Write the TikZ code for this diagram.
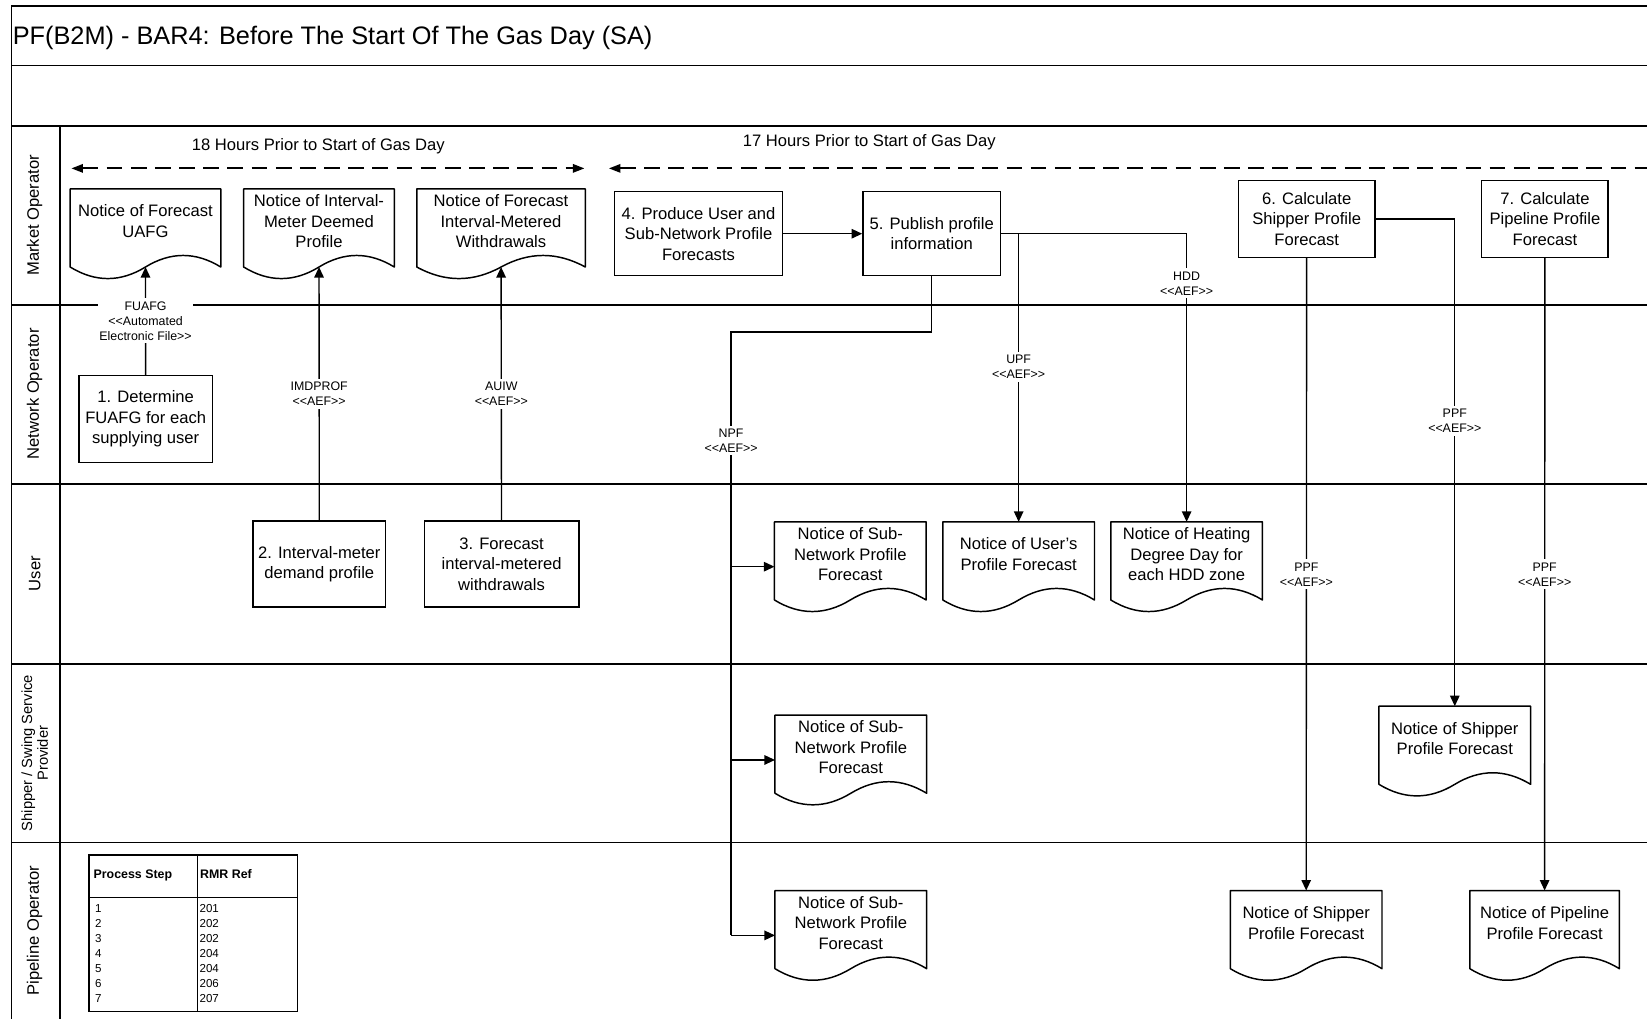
\documentclass[tikz,border=0pt]{standalone}
\usepackage{fontspec}
\setmainfont{Liberation Sans}
\usepackage{tikz}
\usetikzlibrary{arrows.meta,calc}
\newcommand{\boxfont}{\fontsize{15.8}{19.5}\selectfont}
\newcommand{\aeffont}{\fontsize{11.8}{14.3}\selectfont}
\newcommand{\titlefont}{\fontsize{24.1}{28}\selectfont}
\newcommand{\shipfont}{\fontsize{14}{15}\selectfont}
\newcommand{\tblfont}{\fontsize{11}{14.3}\selectfont}
\tikzset{
  proc/.style={draw, line width=1.4pt, align=center, font=\boxfont, inner sep=0pt},
  doc/.style={align=center, font=\boxfont, inner sep=0pt, minimum height=74pt, text depth=13pt},
  docline/.style={line width=1.4pt, line join=round},
  flow/.style={line width=1.3pt, -{Triangle[length=10pt,width=9pt]}},
  link/.style={line width=1.3pt},
  aef/.style={fill=white, font=\aeffont, align=center, inner xsep=1.5pt, inner ysep=3pt},
  lane/.style={rotate=90, font=\boxfont, align=center},
  sep/.style={line width=1.5pt},
  timeline/.style={line width=1.8pt, dash pattern=on 15pt off 8pt}
}

\begin{document}
\begin{tikzpicture}[x=1pt,y=-1pt]
            \useasboundingbox (0,0) rectangle (1568,970);

            % frame and swim lanes
            \draw[sep] (1568,5.7) -- (11,5.7) -- (11,970);
            \draw[sep] (11,62.5) -- (1568,62.5);
            \draw[sep] (11,120) -- (1568,120);
            \draw[sep] (57,120) -- (57,970);
            \draw[sep] (11,290.4) -- (1568,290.4);
            \draw[sep] (11,460.5) -- (1568,460.5);
            \draw[sep] (11,632) -- (1568,632);
            \draw[sep] (11,802.2) -- (1568,802.2);

            \node[anchor=base west, font=\titlefont, inner sep=0pt] (title) at (12,42) {PF(B2M) - BAR4: Before The Start Of The Gas Day (SA)};

            % lane names
            \node[lane] (lMO) at (33,205) {Market Operator};
            \node[lane] (lNO) at (33,375) {Network Operator};
            \node[lane] (lU) at (33,546) {User};
            \node[lane, font=\shipfont] (lSSP) at (33,717) {Shipper / Swing Service\\Provider};
            \node[lane] (lPO) at (33,886) {Pipeline Operator};

            % time lines
            \node[font=\boxfont] (t18) at (303,138.9) {18 Hours Prior to Start of Gas Day};
            \node[font=\boxfont] (t17) at (827.6,135.6) {17 Hours Prior to Start of Gas Day};
            \coordinate (t18l) at (68,160.3);
            \coordinate (t18r) at (556.4,160.3);
            \coordinate (t17l) at (579.7,160.3);
            \coordinate (t17r) at (1568,160.3);
            \draw[timeline, {Triangle[length=11pt,width=8pt]}-{Triangle[length=11pt,width=8pt]}] (t18l) -- (t18r);
            \draw[timeline, {Triangle[length=11pt,width=8pt]}-] (t17l) -- (t17r);

            % market operator lane
            \node[doc, minimum width=143pt] (dUAFG) at (138.5,217) {Notice of Forecast\\UAFG};
            \node[doc, minimum width=143pt] (dIMD) at (303.7,217) {Notice of Interval-\\Meter Deemed\\Profile};
            \node[doc, minimum width=160pt] (dAUIW) at (477,217) {Notice of Forecast\\Interval-Metered\\Withdrawals};
            \node[proc, minimum width=160pt, minimum height=80pt] (p4) at (665,222.5) {4. Produce User and\\Sub-Network Profile\\Forecasts};
            \node[proc, minimum width=131pt, minimum height=80pt] (p5) at (887,222.5) {5. Publish profile\\information};
            \node[proc, minimum width=130pt, minimum height=73pt] (p6) at (1244,208.5) {6. Calculate\\Shipper Profile\\Forecast};
            \node[proc, minimum width=120.5pt, minimum height=73pt] (p7) at (1470.8,208.5) {7. Calculate\\Pipeline Profile\\Forecast};

            % network operator lane
            \node[proc, minimum width=127pt, minimum height=83pt] (p1) at (138.7,399) {1. Determine\\FUAFG for each\\supplying user};

            % user lane
            \node[proc, minimum width=126pt, minimum height=82pt] (p2) at (304,537) {2. Interval-meter\\demand profile};
            \node[proc, minimum width=147pt, minimum height=82pt] (p3) at (477.5,537) {3. Forecast\\interval-metered\\withdrawals};
            \node[doc, minimum width=144pt] (dSubU) at (809.5,534) {Notice of Sub-\\Network Profile\\Forecast};
            \node[doc, minimum width=144pt] (dUser) at (969.8,534) {Notice of User's\\Profile Forecast};
            \node[doc, minimum width=144pt] (dHDD) at (1129.7,534) {Notice of Heating\\Degree Day for\\each HDD zone};

            % shipper / swing service provider lane
            \node[doc, minimum width=144pt] (dSubS) at (810,718) {Notice of Sub-\\Network Profile\\Forecast};
            \node[doc, minimum width=144pt] (dShipS) at (1385,709.5) {Notice of Shipper\\Profile Forecast};

            % pipeline operator lane
            \node[doc, minimum width=144pt] (dSubP) at (810,885) {Notice of Sub-\\Network Profile\\Forecast};
            \node[doc, minimum width=144pt] (dShipP) at (1243.5,885) {Notice of Shipper\\Profile Forecast};
            \node[doc, minimum width=142pt] (dPipeP) at (1470.5,885) {Notice of Pipeline\\Profile Forecast};

            % document outlines with the wavy bottom
            \foreach \d in {dUAFG,dIMD,dAUIW,dSubU,dUser,dHDD,dSubS,dShipS,dSubP,dShipP,dPipeP}
              \draw[docline] (\d.south east) -- (\d.north east) -- (\d.north west) -- (\d.south west)
                .. controls ($(\d.south west)!0.1667!(\d.south east)+(0pt,-14.67pt)$) and ($(\d.south west)!0.3333!(\d.south east)+(0pt,-14.67pt)$) .. (\d.south)
                .. controls ($(\d.south west)!0.6667!(\d.south east)+(0pt,14.67pt)$) and ($(\d.south west)!0.8333!(\d.south east)+(0pt,14.67pt)$) .. (\d.south east) -- cycle;

            % files sent up to the market operator
            \draw[flow] (p1) -- (dUAFG) node[aef, midway]{FUAFG\\<{}<Automated\\Electronic File>{}>};
            \draw[flow] (p2) -- (dIMD) node[aef, midway]{IMDPROF\\<{}<AEF>{}>};
            \draw[flow] (p3) -- (dAUIW) node[aef, midway]{AUIW\\<{}<AEF>{}>};

            % published profiles
            \draw[flow] (p4) -- (p5);
            \coordinate (npf) at (696,316);
            \draw[link] (p5) |- (npf) -- ([yshift=-5.5pt]npf |- dSubP.west) node[aef, pos=0.18]{NPF\\<{}<AEF>{}>};
            \draw[flow] ([yshift=-5.5pt]npf |- dSubU.west) -- ([yshift=-5.5pt]dSubU.west);
            \draw[flow] ([yshift=-5.5pt]npf |- dSubS.west) -- ([yshift=-5.5pt]dSubS.west);
            \draw[flow] ([yshift=-5.5pt]npf |- dSubP.west) -- ([yshift=-5.5pt]dSubP.west);
            \draw[flow] (p5) -| (dHDD) node[aef, pos=0.586]{HDD\\<{}<AEF>{}>};
            \draw[flow] (p5 -| dUser) -- (dUser) node[aef, pos=0.463]{UPF\\<{}<AEF>{}>};

            % shipper and pipeline forecasts
            \draw[flow] (p6) -- (dShipP) node[aef, midway]{PPF\\<{}<AEF>{}>};
            \draw[flow] (p6) -| (dShipS) node[aef, pos=0.707]{PPF\\<{}<AEF>{}>};
            \draw[flow] (p7) -- (dPipeP) node[aef, midway]{PPF\\<{}<AEF>{}>};

            % process step table
            \draw[sep] (84.5,814) rectangle (283.4,963);
            \draw[sep] (84.5,854.6) -- (283.4,854.6);
            \draw[sep] (187.9,814) -- (187.9,963);
            \node[anchor=base west, font=\fontsize{11.8}{14}\selectfont\bfseries, inner sep=0pt] (hStep) at (88.9,836.2) {Process Step};
            \node[anchor=base west, font=\fontsize{11.8}{14}\selectfont\bfseries, inner sep=0pt] (hRef) at (190.4,836.2) {RMR Ref};
            \foreach \s/\r [count=\i from 0] in {1/201,2/202,3/202,4/204,5/204,6/206,7/207} {
              \node[anchor=base west, font=\tblfont, inner sep=0pt] (s\s) at (90.4,{868.6+14.3*\i}) {\s};
              \node[anchor=base west, font=\tblfont, inner sep=0pt] (r\s) at (189.8,{868.6+14.3*\i}) {\r};
            }
\end{tikzpicture}
\end{document}
